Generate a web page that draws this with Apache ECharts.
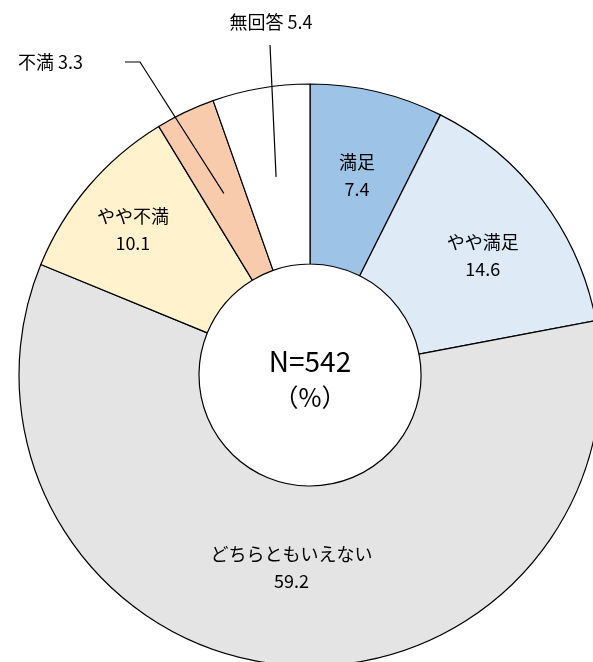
<!DOCTYPE html>
<html>
<head>
<meta charset="utf-8">
<script src="https://cdn.jsdelivr.net/npm/echarts@6/dist/echarts.min.js"></script>
<style>
  html, body { margin: 0; padding: 0; background: #fff; }
  #main { width: 593px; height: 662px; }
</style>
</head>
<body>
<div id="main"></div>
<script>
  // data
  var categories = ['満足', 'やや満足', 'どちらともいえない', 'やや不満', '不満', '無回答'];
  var values = [7.4, 14.6, 59.2, 10.1, 3.3, 5.4];
  var colors = ['#9DC3E6', '#DEEBF7', '#E4E4E4', '#FFF2CC', '#F8CBAD', '#FFFFFF'];
  var sampleText = 'N=542';
  var unitText = '（%）';

  // layout
  var CX = 310, CY = 375, R0 = 111, R1 = 291;
  var FONT = '"Noto Sans CJK JP", "Noto Sans", sans-serif';
  // nudge for labels drawn inside the ring
  var insideShift = [[0, -1], [10, 4], [2, -10], [-22, -13], null, null];
  // outside labels: bend points of the leader line and where the text sits
  var outside = {
    4: { bend: [[140, 62], [125, 62]], x: 83, y: 62, align: 'right' },
    5: { bend: [[273, 110], [270, 45]], x: 271, y: 22, align: 'center' }
  };

  var total = values.reduce(function (a, b) { return a + b; }, 0);
  function midPoint(i) {
    var cum = 0;
    for (var k = 0; k < i; k++) cum += values[k];
    var th = (cum + values[i] / 2) / total * Math.PI * 2;
    var rm = (R0 + R1) / 2;
    return [CX + rm * Math.sin(th), CY - rm * Math.cos(th)];
  }

  // ring
  var ringData = categories.map(function (name, i) {
    return { name: name, value: values[i], itemStyle: { color: colors[i] } };
  });

  // same slices again, transparent, only to carry the labels above the ring
  var labelData = categories.map(function (name, i) {
    var out = !!outside[i];
    return {
      name: name,
      value: values[i],
      label: out ? {
        position: 'outside',
        formatter: '{b} {c}'
      } : {
        position: 'inside',
        formatter: '{b}\n{c}'
      },
      labelLine: { show: out, length: 10, length2: 10 }
    };
  });

  var myChart = echarts.init(document.getElementById('main'));
  var option = {
    backgroundColor: '#ffffff',
    animation: false,
    title: {
      text: '{a|' + sampleText + '}\n{b|' + unitText + '}',
      left: CX,
      top: 343,
      textAlign: 'center',
      padding: 0,
      textStyle: {
        rich: {
          a: { fontFamily: FONT, fontSize: 28, fontWeight: 'normal', color: '#000', lineHeight: 36 },
          b: { fontFamily: FONT, fontSize: 25, fontWeight: 'normal', color: '#000', lineHeight: 36 }
        }
      }
    },
    series: [
      {
        type: 'pie',
        z: 2,
        center: [CX, CY],
        radius: [R0, R1],
        startAngle: 90,
        clockwise: true,
        silent: true,
        itemStyle: { borderColor: '#000', borderWidth: 1.2 },
        emphasis: { disabled: true },
        label: { show: false },
        labelLine: { show: false },
        data: ringData
      },
      {
        type: 'pie',
        z: 5,
        center: [CX, CY],
        radius: [R0, R1],
        startAngle: 90,
        clockwise: true,
        silent: true,
        avoidLabelOverlap: false,
        itemStyle: { color: 'rgba(0,0,0,0)', borderWidth: 0 },
        emphasis: { disabled: true },
        label: {
          color: '#000',
          fontFamily: FONT,
          fontSize: 18,
          lineHeight: 27
        },
        labelLine: {
          showAbove: true,
          lineStyle: { color: '#000', width: 1.2 }
        },
        labelLayout: function (params) {
          var i = params.dataIndex;
          if (outside[i]) {
            var o = outside[i];
            return {
              x: o.x,
              y: o.y,
              align: o.align,
              verticalAlign: 'middle',
              labelLinePoints: [midPoint(i), o.bend[0], o.bend[1]]
            };
          }
          var s = insideShift[i] || [0, 0];
          return { dx: s[0], dy: s[1] };
        },
        data: labelData
      }
    ]
  };
  myChart.setOption(option);
</script>
</body>
</html>
